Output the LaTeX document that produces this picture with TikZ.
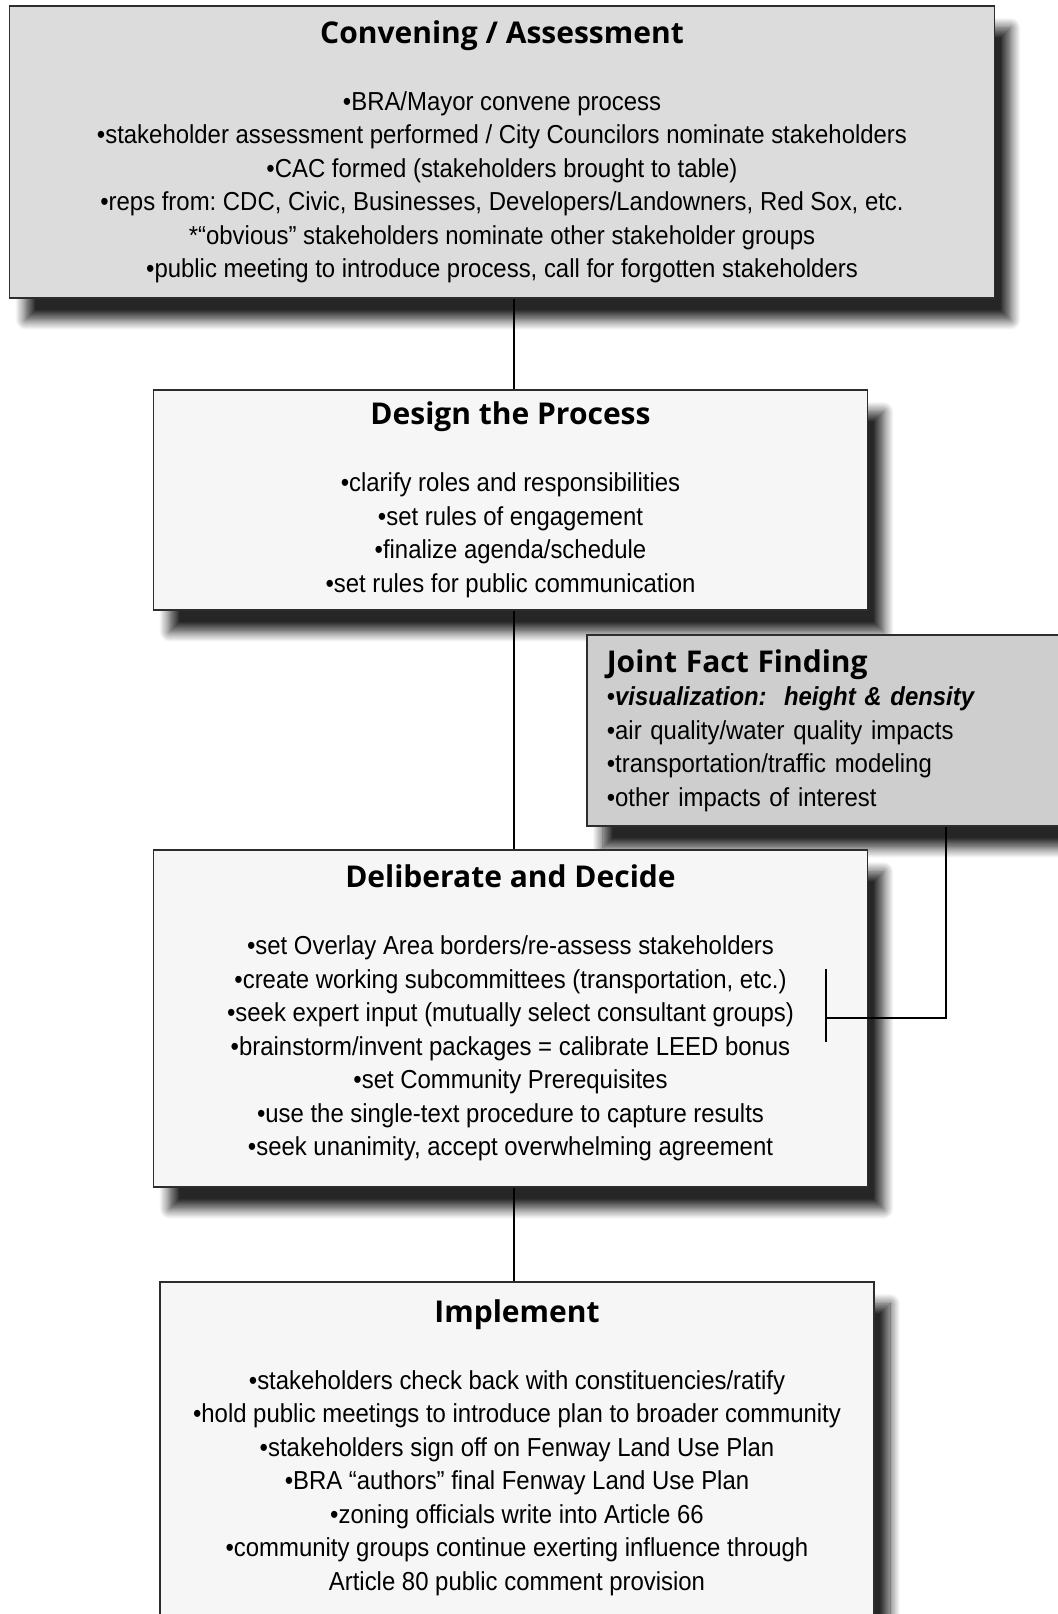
\documentclass[tikz,border=0pt]{standalone}
\usepackage{fontspec}
\setmainfont{Liberation Sans}[FakeStretch=0.92]
\newfontfamily\headfont{Open Sans}
\frenchspacing
\usetikzlibrary{shadows.blur}
\definecolor{convfill}{RGB}{220,220,220}
\definecolor{jointfill}{RGB}{206,206,206}
\definecolor{paperfill}{RGB}{246,246,246}
\definecolor{boxrule}{RGB}{45,45,45}
\newcommand{\stagetitle}[1]{{\headfont\bfseries\fontsize{15}{16.75}\selectfont #1}}
\tikzset{
  stage/.style={rectangle,draw=boxrule,line width=0.8pt,fill=paperfill,align=center,anchor=north,inner sep=0pt,
    font=\fontsize{13}{16.75}\selectfont,
    blur shadow={shadow xshift=8pt,shadow yshift=-11pt,shadow blur radius=5pt,shadow blur steps=12,shadow opacity=85}},
  link/.style={line width=0.6pt,draw=black}
}
\begin{document}
\begin{tikzpicture}[x=0.5pt,y=-0.5pt]
  \useasboundingbox (0,0) rectangle (1058,1614);
  \node[stage,fill=convfill,minimum width=492.5pt,minimum height=146pt] (conv) at (502,5) {\stagetitle{Convening / Assessment}\\[16.75pt]
    •BRA/Mayor convene process\\
    •stakeholder assessment performed / City Councilors nominate stakeholders\\
    •CAC formed (stakeholders brought to table)\\
    •reps from: CDC, Civic, Businesses, Developers/Landowners, Red Sox, etc.\\
    *“obvious” stakeholders nominate other stakeholder groups\\
    •public meeting to introduce process, call for forgotten stakeholders};
  \node[stage,minimum width=357pt,minimum height=110pt] (des) at (510.5,389) {\stagetitle{Design the Process}\\[16.75pt]
    •clarify roles and responsibilities\\
    •set rules of engagement\\
    •finalize agenda/schedule\\
    •set rules for public communication};
  \node[stage,fill=jointfill,anchor=north west,align=left,text width=230pt,inner xsep=10pt,minimum height=95.5pt] (joint) at (586,634) {\stagetitle{Joint Fact Finding}\\
    •\textbf{\textit{visualization:~~height \& density}}\\
    •air quality/water quality impacts\\
    •transportation/traffic modeling\\
    •other impacts of interest};
  \node[stage,minimum width=357pt,minimum height=168.5pt] (delib) at (510.5,849) {\stagetitle{Deliberate and Decide}\\[16.75pt]
    •set Overlay Area borders/re-assess stakeholders\\
    •create working subcommittees (transportation, etc.)\\
    •seek expert input (mutually select consultant groups)\\
    •brainstorm/invent packages = calibrate LEED bonus\\
    •set Community Prerequisites\\
    •use the single-text procedure to capture results\\
    •seek unanimity, accept overwhelming agreement\\[-9pt]
    \mbox{}};
  \node[stage,minimum width=357pt,minimum height=180pt] (impl) at (517,1281) {\stagetitle{Implement}\\[16.75pt]
    •stakeholders check back with constituencies/ratify\\
    •hold public meetings to introduce plan to broader community\\
    •stakeholders sign off on Fenway Land Use Plan\\
    •BRA “authors” final Fenway Land Use Plan\\
    •zoning officials write into Article 66\\
    •community groups continue exerting influence through\\
    Article 80 public comment provision\\
    \mbox{}};
  % connectors
  \coordinate (spine) at (514,0);
  \draw[link] (conv.south -| spine) -- (des.north -| spine);
  \draw[link] (des.south -| spine) -- (delib.north -| spine);
  \draw[link] (delib.south -| spine) -- (impl.north -| spine);
  \coordinate (jdrop) at (946,0);
  \coordinate (brkmid) at (826,1018);
  \coordinate (brktop) at (826,969);
  \coordinate (brkbot) at (826,1042);
  \draw[link] (joint.south -| jdrop) |- (brkmid);
  \draw[link] (brktop) -- (brkbot);
\end{tikzpicture}
\end{document}
